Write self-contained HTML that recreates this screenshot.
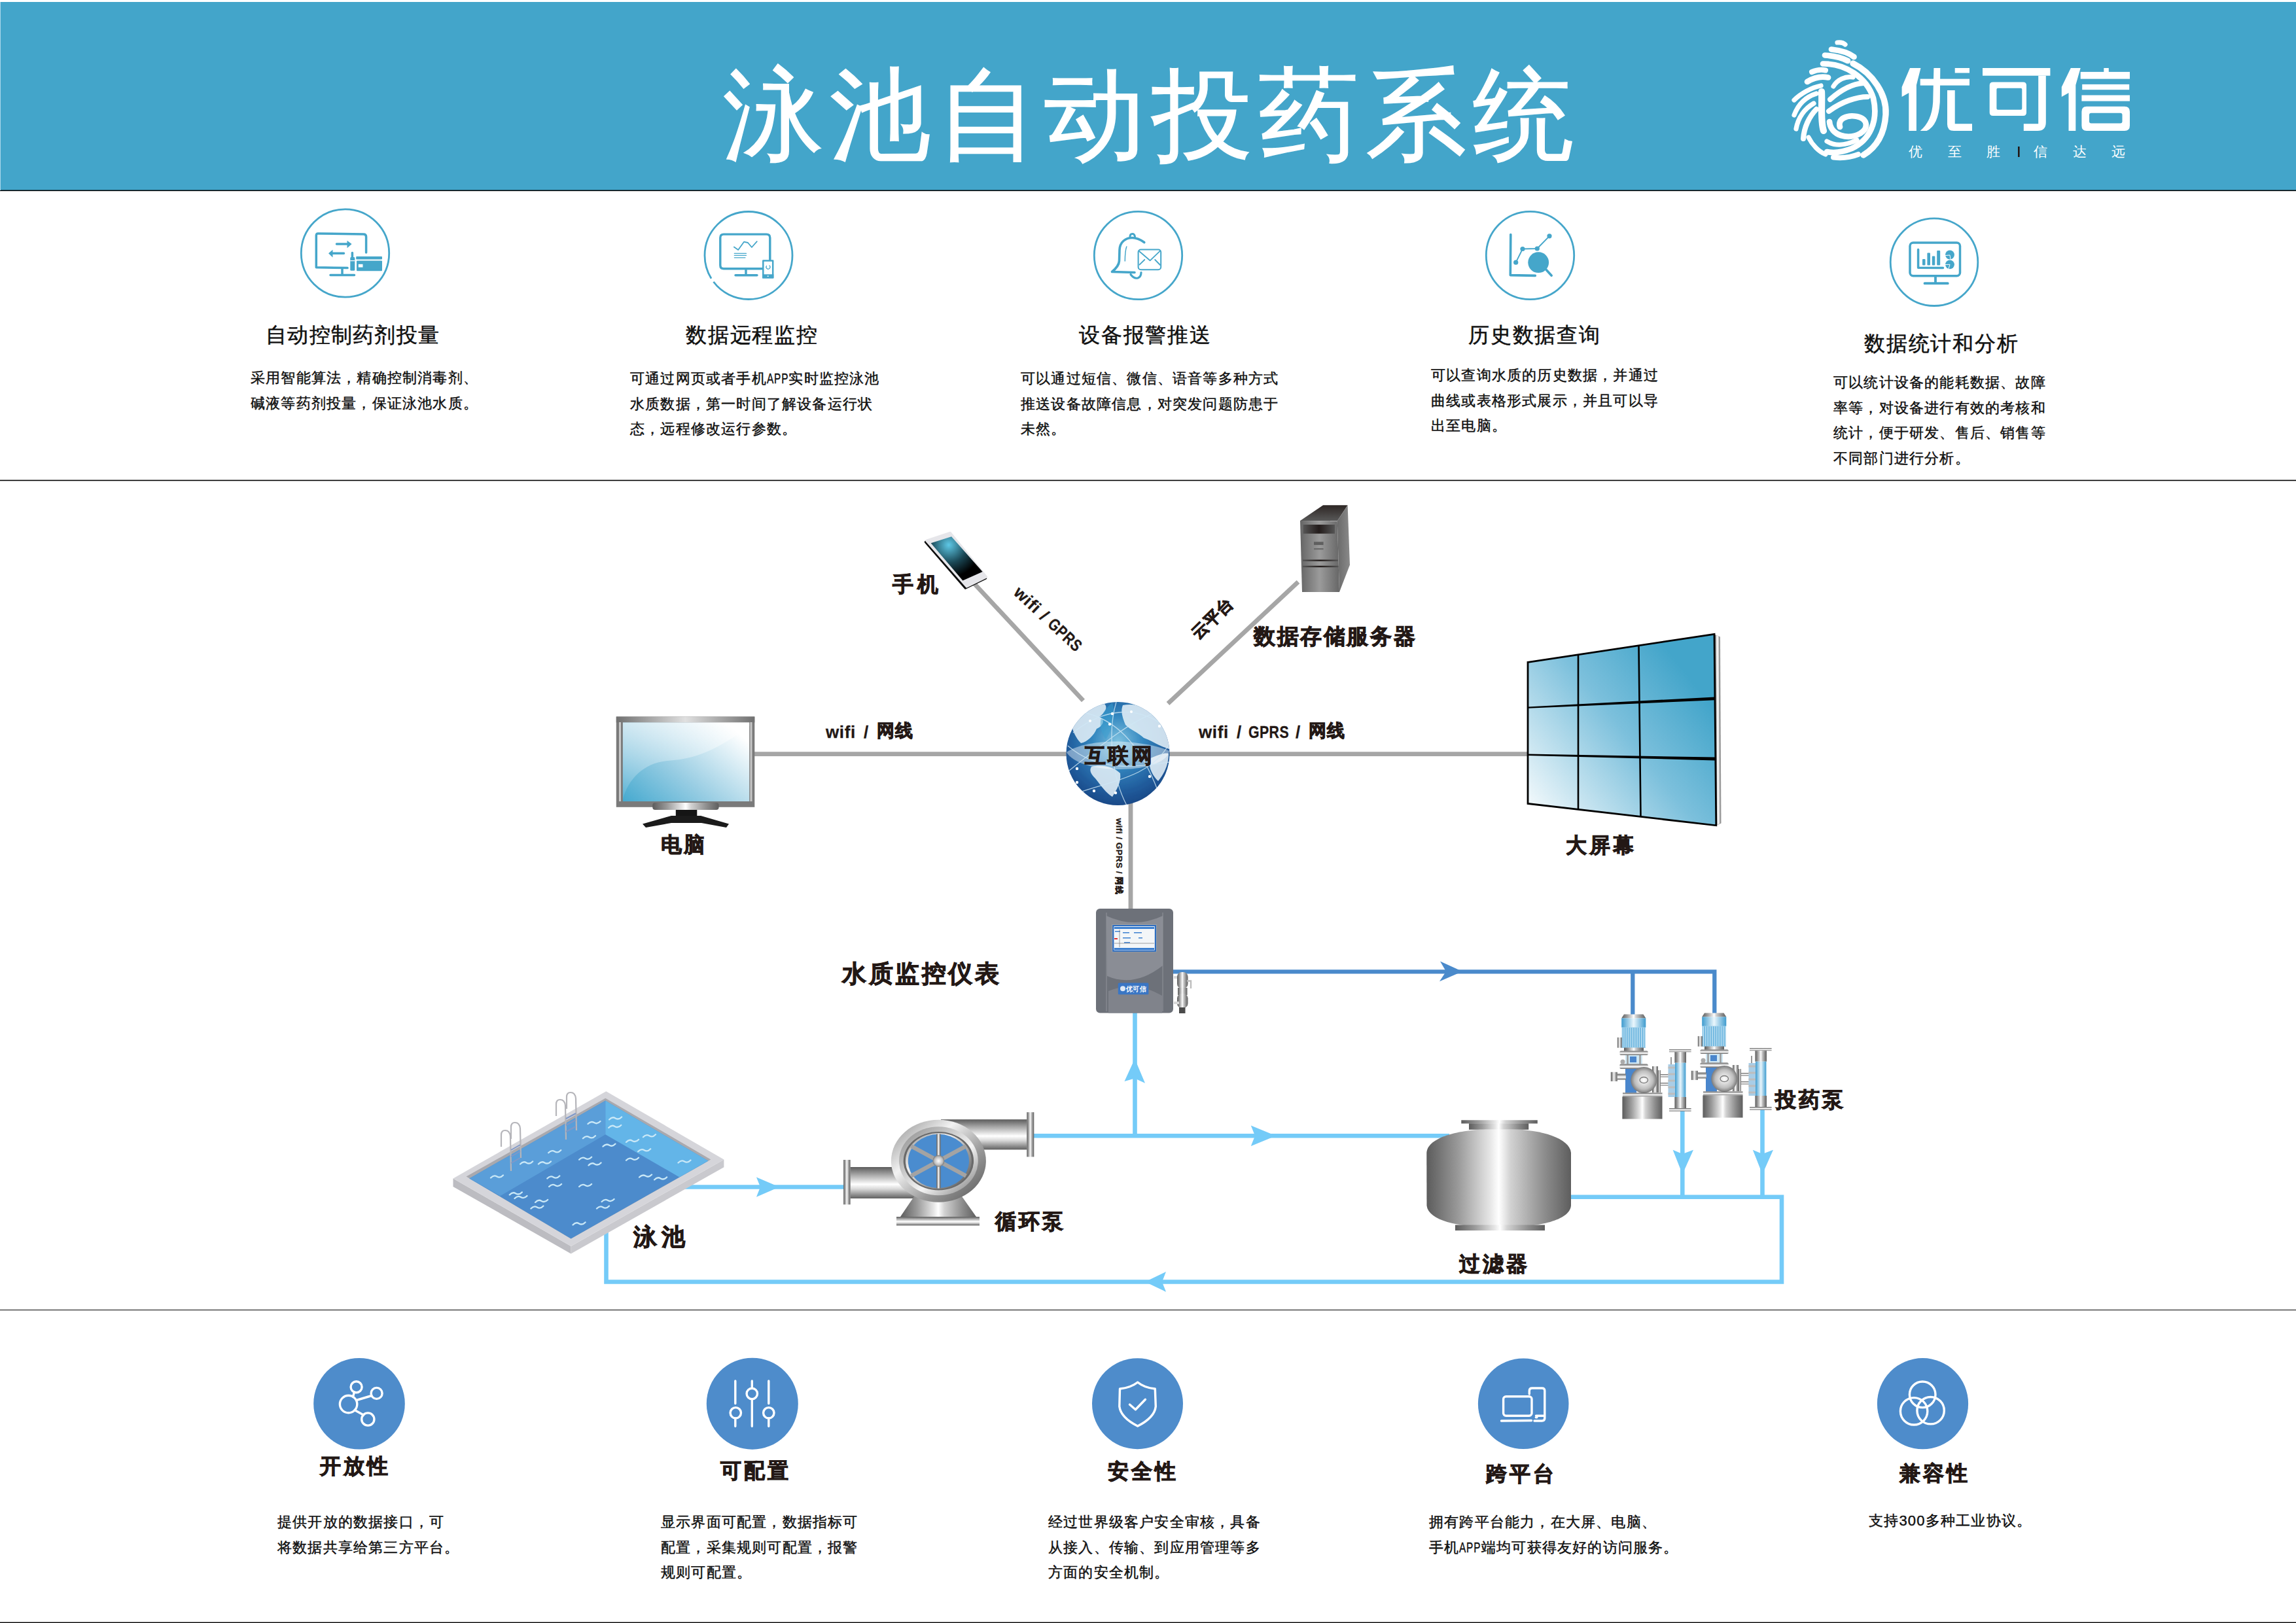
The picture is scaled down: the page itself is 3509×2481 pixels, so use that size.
<!DOCTYPE html>
<html><head><meta charset="utf-8">
<style>
html,body{margin:0;padding:0;background:#fff;}
body{width:3509px;height:2481px;position:relative;overflow:hidden;font-family:"Liberation Sans",sans-serif;}
.t{position:absolute;white-space:nowrap;line-height:1;}
.ti{font-size:32px;color:#111;letter-spacing:1.8px;-webkit-text-stroke:0.5px #111;}
.ds{font-size:22px;color:#111;line-height:38.5px;letter-spacing:1.2px;-webkit-text-stroke:0.45px #111;}
.lb{font-weight:700;color:#231815;font-size:32px;letter-spacing:4.2px;-webkit-text-stroke:1px #231815;}
.bt{font-weight:700;color:#231815;font-size:32px;letter-spacing:4.2px;-webkit-text-stroke:1px #231815;}
svg{position:absolute;left:0;top:0;}
.wl{font-size:26px;letter-spacing:0.6px;-webkit-text-stroke:0.3px #231815;}
.wc{font-size:26.5px;letter-spacing:1.3px;}
.app{display:inline-block;transform:scaleX(0.7);transform-origin:0 0;margin-right:-14px;}
</style></head>
<body>
<svg id="g" width="3509" height="2481" viewBox="0 0 3509 2481">
<!-- HEADER -->
<rect x="0" y="3" width="3509" height="288" fill="#43A5CA"/>
<rect x="0" y="290.5" width="3509" height="1.6" fill="#000"/>
<rect x="0" y="3" width="1" height="288" fill="#a9d7ea"/>
<!-- dividers -->
<rect x="0" y="733.6" width="3509" height="1.6" fill="#000"/>
<rect x="0" y="2001.8" width="3509" height="1.4" fill="#404040"/>
<rect x="0" y="2479.6" width="3509" height="1.4" fill="#000"/>
<!--LOGO-->
<g transform="translate(2890,90)" fill="#fff">
<path d="M29,14 L45.5,14 L38.9,40 L38.9,110 L27.3,110 L27.3,52 L16.6,58 L16.6,43 Z"/>
<rect x="97.7" y="14" width="22.3" height="7.5"/>
<rect x="44.7" y="30.6" width="75.3" height="10"/>
<path d="M65.4,14 L75.3,14 L74.8,66 Q72.5,102 54.6,110 L44.7,110 Q62.5,95 64.2,66 Z"/>
<path d="M86,48 L97.7,48 L97.7,99.3 L124,99.3 L124,110 L96,110 Q86,110 86,100 Z"/>
<rect x="140" y="14" width="103.4" height="11.7"/>
<path fill-rule="evenodd" d="M156,35.6 L202,35.6 Q207,35.6 207,40.6 L207,82 Q207,87 202,87 L156,87 Q150.7,87 150.7,82 L150.7,40.6 Q150.7,35.6 156,35.6 Z M163.5,44.7 L198.2,44.7 Q200.3,44.7 200.3,46.8 L200.3,75.7 Q200.3,77.8 198.2,77.8 L163.5,77.8 Q161.4,77.8 161.4,75.7 L161.4,46.8 Q161.4,44.7 163.5,44.7 Z"/>
<path d="M225.2,25.7 L236.8,25.7 L236.8,97 Q236.8,110 224,110 L202.8,110 L202.8,99.3 L225.2,99.3 Z"/>
<path d="M274.8,14 L289.7,14 L282.3,40 L282.3,110 L271.5,110 L271.5,52 L260.8,58 L260.8,43 Z"/>
<rect x="325.3" y="14" width="7.5" height="7"/>
<rect x="289.7" y="19.9" width="75.3" height="10.7"/>
<rect x="292.2" y="38.9" width="72" height="8.3"/>
<rect x="291.4" y="55.5" width="73.6" height="9.1"/>
<path fill-rule="evenodd" d="M299,72.8 L357,72.8 Q365,72.8 365,80.8 L365,102 Q365,110 357,110 L299,110 Q291.4,110 291.4,102 L291.4,80.8 Q291.4,72.8 299,72.8 Z M306,82.8 L350.5,82.8 Q353.5,82.8 353.5,85.8 L353.5,95.5 Q353.5,98.5 350.5,98.5 L306,98.5 Q303,98.5 303,95.5 L303,85.8 Q303,82.8 306,82.8 Z"/>
</g>
<rect x="3084" y="224" width="2.6" height="16" fill="#231815"/>
<g fill="none" stroke="#fff" stroke-width="8.7" stroke-linecap="round">
<path d="M2808,65 Q2816,64 2820,68" stroke-width="7.2"/>
<path d="M2799,75.5 Q2822,78 2833.5,87" stroke-width="8.7"/>
<path d="M2789,84.5 Q2810,86 2824,93" stroke-width="8.7"/>
<path d="M2832,97 C2862,112 2884,145 2882,175 C2880,205 2868,225 2848,237" stroke-width="9.4"/>
<path d="M2786,97.5 C2820,97 2853,118 2863,150 C2871,185 2858,214 2830,227 C2815,233 2802,234 2792,232" stroke-width="8.7"/>
<path d="M2802,240.5 Q2822,243 2840,236" stroke-width="8.0"/>
<path d="M2769,110 Q2780,105 2790,107.5" stroke-width="8.0"/>
<path d="M2762,125 Q2778,115 2794,118.5" stroke-width="8.7"/>
<path d="M2742,153 C2752,143 2768,134 2783,131" stroke-width="7.2"/>
<path d="M2742,176 C2748,160 2760,148 2776,143" stroke-width="7.2"/>
<path d="M2745,197 C2748,180 2758,166 2772,158" stroke-width="7.2"/>
<path d="M2756,212 C2757,195 2765,178 2776,167" stroke-width="8.0"/>
<path d="M2764,210 C2770,222 2780,232 2790,236" stroke-width="7.2"/>
<path d="M2784,140 C2785,160 2782,185 2787,200" stroke-width="10.2"/>
<path d="M2797,152 C2815,136 2833,128 2848,127" stroke-width="8.0"/>
<path d="M2795,170 C2815,155 2838,148 2854,148" stroke-width="8.0"/>
<path d="M2796,186 C2798,208 2825,214 2843,204 C2856,196 2855,182 2838,178 C2822,175 2808,182 2812,194" stroke-width="8.7"/>
<path d="M2802,132 C2808,122 2820,116 2832,118" stroke-width="7.2"/>
<path d="M2792,216 C2805,224 2822,222 2838,214" stroke-width="7.2"/>
</g>
<!--ROW1-->
<g fill="none" stroke="#45A6CA" stroke-width="2.8">
<circle cx="527.5" cy="387" r="67.2"/>
<circle cx="1144" cy="390.5" r="67" stroke-dasharray="167 6 248"/>
<circle cx="1739.5" cy="390.5" r="67.2"/>
<circle cx="2338.5" cy="390.5" r="67.2"/>
<circle cx="2956" cy="400.7" r="66.8"/>
</g>
<!-- icon1 -->
<g transform="translate(450,310)" fill="none" stroke="#45A6CA" stroke-width="3.5" stroke-linecap="round" stroke-linejoin="round">
<path d="M109.6,76 L109.6,52 Q109.6,48 105.5,48 L36,47 Q33.3,47 33.3,50 L33.3,98.8 L81,99.6"/>
<path d="M73,100 L73,109.5 M55,110.4 L91.5,110.4"/>
<path d="M64.5,63 L82,63 M58.5,77.2 L75.5,77.2"/>
<path d="M88.4,76.5 L88.4,84"/>
</g>
<g transform="translate(450,310)" fill="#45A6CA">
<path d="M80.5,57.8 L87.6,63 L80.5,69.3 Z M58.5,71.8 L52,77.2 L58.5,83.6 Z"/>
<rect x="85.3" y="83" width="7" height="20.7" rx="1.5"/>
<rect x="94.2" y="82" width="39.8" height="4.6" rx="1"/>
<rect x="95" y="88.6" width="39" height="15.6" rx="1"/>
<rect x="97.8" y="93.8" width="6.7" height="4.8" fill="#fff"/>
<rect x="85.3" y="88" width="7" height="1.2" fill="#fff"/>
</g>
<!-- icon2 -->
<g transform="translate(1070,310)" fill="none" stroke="#45A6CA" stroke-linecap="round" stroke-linejoin="round">
<path d="M95,100.8 L36,100.8 Q30.8,100.8 30.8,95.5 L30.8,53.5 Q30.8,48.1 36,48.1 L101.5,48.1 Q106.8,48.1 106.8,53.5 L106.8,87" stroke-width="3.4"/>
<path d="M70,101.5 L70,109 M54,110.7 L87,110.7" stroke-width="3.4"/>
<polyline points="51.8,67.6 58.2,72 67,59.7 73,61 78.9,68 86.8,59.2" stroke-width="1.8"/>
<path d="M52.3,77.4 L70.5,77.4 M52.3,80.4 L70.5,80.4 M52.3,83.8 L69,83.8" stroke-width="1.2"/>
<rect x="96.3" y="88.5" width="14.9" height="25.7" stroke-width="2.5" fill="#fff"/>
<path d="M106,96 A3,3 0 1 1 101.5,96.5" stroke-width="1.2"/>
</g>
<g transform="translate(1070,310)" fill="#45A6CA">
<rect x="95" y="109.3" width="17.4" height="6.1"/>
<rect x="102.7" y="111.5" width="2" height="1.4" fill="#fff"/>
</g>
<!-- icon3 -->
<g transform="translate(1660,310)" fill="none" stroke="#45A6CA" stroke-linecap="round" stroke-linejoin="round">
<path d="M88.8,60.5 C84,57 77,53.5 70.5,53.5 C60,53.5 51.5,60 51,72 L50.5,89 C50,96 45,101 39.5,105.5 L74,106.5" stroke-width="3.6"/>
<path d="M67,52 Q67,47.5 70.5,47.5 Q74,47.5 74.5,52" stroke-width="3"/>
<path d="M68,109.5 Q73,116.5 79,115 Q84,113 84,106.5" stroke-width="3.2"/>
<path d="M61.8,67 Q59.5,73 59.3,89" stroke-width="1.5"/>
<rect x="79.6" y="71.6" width="34.6" height="30.6" rx="4" stroke-width="2"/>
<path d="M81,74 L97.6,88.3 L113.2,73.3 M81.5,94.7 L89.3,87 M105.2,87 L113,95" stroke-width="1.8"/>
</g>
<!-- icon4 -->
<g transform="translate(2260,310)" stroke="#45A6CA" stroke-linecap="round" stroke-linejoin="round" fill="none">
<path d="M48.8,48.5 L48.3,110.6 L86.3,111.4" stroke-width="3.6"/>
<polyline points="56.7,91.2 67,70.5 89.3,70 108,50.8" stroke-width="1.9"/>
<path d="M103,102.3 L111.2,111.2" stroke-width="3.6"/>
</g>
<g transform="translate(2260,310)" fill="#45A6CA">
<circle cx="56.7" cy="91.2" r="3.6"/><circle cx="67" cy="70.5" r="3.6"/><circle cx="89.3" cy="70" r="3.6"/><circle cx="108" cy="50.8" r="3.6"/>
<circle cx="91.2" cy="91.2" r="15.9"/>
</g>
<!-- icon5 -->
<g transform="translate(2870,320)" stroke="#45A6CA" stroke-linecap="round" stroke-linejoin="round" fill="none">
<rect x="49" y="51" width="76.5" height="50.8" rx="5" stroke-width="3.5"/>
<path d="M88,102 L88,112 M71.5,113.2 L106.8,113.2" stroke-width="3.8"/>
<path d="M61.6,61.5 L61.6,89.2 L99.5,89.6" stroke-width="3.5"/>
</g>
<g transform="translate(2870,320)" fill="#45A6CA">
<rect x="68" y="76" width="4.5" height="9.5" rx="1"/><rect x="75.4" y="66.5" width="4.6" height="19" rx="1"/><rect x="82.8" y="71.5" width="4.5" height="14" rx="1"/><rect x="90.2" y="63" width="5" height="22.5" rx="1"/>
<circle cx="110" cy="69.5" r="6.9"/><circle cx="110" cy="84.3" r="6.9"/>
<path d="M103,70.5 L110,70 L111,76.5 M103,84.5 L110,84.3 L108,91" stroke="#fff" stroke-width="1" fill="none"/>
</g>
<!--DIAGRAM-->
<defs>
<linearGradient id="slH" x1="0" y1="0" x2="1" y2="0"><stop offset="0" stop-color="#5c5c5c"/><stop offset="0.22" stop-color="#9a9a9a"/><stop offset="0.44" stop-color="#e6e6e6"/><stop offset="0.5" stop-color="#ffffff"/><stop offset="0.58" stop-color="#d2d2d2"/><stop offset="0.82" stop-color="#8c8c8c"/><stop offset="1" stop-color="#5e5e5e"/></linearGradient>
<linearGradient id="slV" x1="0" y1="0" x2="0" y2="1"><stop offset="0" stop-color="#5c5c5c"/><stop offset="0.25" stop-color="#a8a8a8"/><stop offset="0.55" stop-color="#ffffff"/><stop offset="0.7" stop-color="#d8d8d8"/><stop offset="1" stop-color="#606060"/></linearGradient>
<linearGradient id="blH" x1="0" y1="0" x2="1" y2="0"><stop offset="0" stop-color="#3f9ccf"/><stop offset="0.5" stop-color="#eaf6fc"/><stop offset="1" stop-color="#3f9ccf"/></linearGradient>
<linearGradient id="scr" x1="0" y1="1" x2="1" y2="0.25"><stop offset="0" stop-color="#45a9cf"/><stop offset="0.45" stop-color="#98cde3"/><stop offset="1" stop-color="#ffffff"/></linearGradient>
<linearGradient id="glare" x1="0" y1="0" x2="0" y2="1"><stop offset="0" stop-color="#ffffff" stop-opacity="0.95"/><stop offset="1" stop-color="#ffffff" stop-opacity="0.15"/></linearGradient>
<linearGradient id="wall" x1="0" y1="1" x2="1" y2="0.2"><stop offset="0" stop-color="#ffffff"/><stop offset="0.55" stop-color="#7cc0dc"/><stop offset="0.9" stop-color="#43a5ca"/><stop offset="1" stop-color="#43a5ca"/></linearGradient>
<radialGradient id="globe" cx="0.5" cy="0.38" r="0.7"><stop offset="0" stop-color="#7fc2e0"/><stop offset="0.35" stop-color="#3588c0"/><stop offset="0.7" stop-color="#215c9c"/><stop offset="1" stop-color="#173f7c"/></radialGradient>
<radialGradient id="phs" cx="0.35" cy="0.05" r="0.9"><stop offset="0" stop-color="#62c9e6"/><stop offset="0.45" stop-color="#1b4c5c"/><stop offset="0.8" stop-color="#000"/></radialGradient>
<linearGradient id="srvF" x1="0" y1="0" x2="1" y2="0"><stop offset="0" stop-color="#656565"/><stop offset="0.5" stop-color="#9b9b9b"/><stop offset="1" stop-color="#666"/></linearGradient>
<linearGradient id="srvT" x1="0" y1="0" x2="0" y2="1"><stop offset="0" stop-color="#2d2624"/><stop offset="1" stop-color="#595959"/></linearGradient>
<linearGradient id="srvS" x1="0" y1="0" x2="1" y2="0"><stop offset="0" stop-color="#6a6a6a"/><stop offset="1" stop-color="#8a8a8a"/></linearGradient>
<linearGradient id="slot" x1="0" y1="0" x2="1" y2="0"><stop offset="0" stop-color="#555"/><stop offset="0.5" stop-color="#231c1b"/><stop offset="1" stop-color="#555"/></linearGradient>
<linearGradient id="frm" x1="0" y1="0" x2="1" y2="0"><stop offset="0" stop-color="#707070"/><stop offset="0.5" stop-color="#e0e0e0"/><stop offset="1" stop-color="#707070"/></linearGradient>
<radialGradient id="disk" cx="0.5" cy="0.5" r="0.5"><stop offset="0" stop-color="#ffffff"/><stop offset="0.7" stop-color="#bdbdbd"/><stop offset="1" stop-color="#7a7a7a"/></radialGradient>
<linearGradient id="volA" x1="0" y1="0" x2="1" y2="1"><stop offset="0" stop-color="#8a8a8a"/><stop offset="0.35" stop-color="#f2f2f2"/><stop offset="0.65" stop-color="#9a9a9a"/><stop offset="1" stop-color="#555"/></linearGradient>
<linearGradient id="volB" x1="1" y1="1" x2="0" y2="0"><stop offset="0" stop-color="#777"/><stop offset="0.4" stop-color="#f5f5f5"/><stop offset="1" stop-color="#888"/></linearGradient>
</defs>
<!-- network lines -->
<g stroke="#A6A6A6" stroke-width="6.8" fill="none">
<path d="M1150,1152.6 L2336,1152.6"/>
<path d="M1487,890 L1655.5,1071"/>
<path d="M1984,889.5 L1785,1075.5"/>
<path d="M1728,1225 L1728,1390"/>
</g>
<!-- monitor -->
<rect x="941.8" y="1095.5" width="211.5" height="138.3" fill="#7a7a7a"/>
<rect x="941.8" y="1095.5" width="211.5" height="8.9" fill="url(#frm)"/>
<rect x="946" y="1104" width="3" height="121" fill="#c8c8c8"/>
<rect x="1146.5" y="1104" width="3" height="121" fill="#c8c8c8"/>
<rect x="951.9" y="1104.4" width="193.3" height="120.6" fill="url(#scr)"/>
<path d="M951.9,1104.4 L1145.2,1104.4 L1145.2,1110 C1120,1128 1080,1158 1030,1162 L1020,1163 C985,1166 960,1190 951.9,1222 Z" fill="url(#glare)" opacity="0.55"/>
<rect x="997.3" y="1227" width="101.3" height="11" rx="4" fill="url(#slH)"/>
<rect x="1032.8" y="1238" width="32.5" height="12" fill="#151515"/>
<path d="M982,1259.5 L1026,1247 L1071,1247 L1114,1259.5 L1110,1265 L1072,1258 L1026,1258 L987,1265 Z" fill="#1b1b1b"/>
<!-- phone -->
<defs><radialGradient id="phs2" gradientUnits="userSpaceOnUse" cx="1450" cy="833" r="55"><stop offset="0" stop-color="#5ec8e6"/><stop offset="0.5" stop-color="#1a4856"/><stop offset="0.9" stop-color="#000"/></radialGradient></defs>
<polygon points="1414.5,828.5 1451.5,816.5 1506.5,884 1475.5,899" fill="#0d0d0d" stroke="#0d0d0d" stroke-width="3.5" stroke-linejoin="round"/>
<polygon points="1416,826.5 1452.3,814.5 1507.5,882 1477.5,896.8" fill="#e6e6ea" stroke="#e6e6ea" stroke-width="3.5" stroke-linejoin="round"/>
<polygon points="1422.7,830.2 1454.1,820.3 1501.6,873.9 1471.4,887.5" fill="url(#phs2)"/>
<!-- server -->
<polygon points="1987.1,796 2022.1,772.3 2059.6,772.3 2043.8,796.5" fill="url(#srvT)"/>
<polygon points="2043.8,796.5 2059.6,772.3 2063,863.5 2047,905" fill="url(#srvS)"/>
<polygon points="1987,796 2043.8,796.5 2047,905 1990,905" fill="url(#srvF)"/>
<rect x="1991.6" y="802" width="48.4" height="13.7" fill="url(#slot)"/>
<rect x="2008" y="828.3" width="14.6" height="4.8" fill="#5f5f5f"/>
<rect x="2008" y="838" width="14.6" height="2.2" fill="#6a6a6a"/>
<rect x="1991" y="855.5" width="54" height="2.4" fill="url(#slot)"/>
<rect x="1991" y="864.8" width="54.5" height="2.4" fill="url(#slot)"/>
<!-- big screen -->
<polygon points="2621,970 2629,973.5 2630.5,1258.5 2623,1262" fill="#9a9a9a"/>
<polygon points="2623,971 2626.5,972.5 2628,1259 2624.5,1261" fill="#f0f0f0"/>
<polygon points="2335,1012.3 2620,969.3 2622.8,1261.8 2335,1228.5" fill="url(#wall)" stroke="#000" stroke-width="2.8" stroke-linejoin="miter"/>
<path d="M2412,1001 L2412,1237.5 M2504.5,987.5 L2507.5,1248.6" stroke="#000" stroke-width="2.6"/>
<polygon points="2335,1080.4 2621,1065.5 2621,1070.3 2335,1082.8" fill="#000"/>
<polygon points="2335,1152.5 2621,1157.6 2621,1162.4 2335,1154.9" fill="#000"/>
<!-- globe -->
<circle cx="1708.5" cy="1152" r="79" fill="url(#globe)"/>
<clipPath id="gclip"><circle cx="1708.5" cy="1152" r="79"/></clipPath>
<g clip-path="url(#gclip)">
<g fill="#e3f0f8" opacity="0.88">
<path d="M1642,1098 C1650,1086 1668,1078 1688,1076 C1694,1082 1688,1090 1680,1096 C1690,1100 1686,1110 1676,1114 C1672,1124 1662,1134 1652,1136 C1644,1128 1640,1118 1638,1110 Z"/>
<path d="M1716,1078 C1735,1074 1760,1082 1774,1098 C1784,1112 1788,1128 1787,1145 C1770,1140 1760,1132 1748,1128 C1740,1120 1728,1116 1720,1108 C1716,1098 1712,1088 1716,1078 Z"/>
<path d="M1668,1172 C1684,1168 1702,1172 1712,1182 C1714,1196 1706,1208 1700,1218 C1690,1212 1682,1200 1674,1190 C1668,1184 1664,1178 1668,1172 Z"/>
<path d="M1756,1160 C1766,1156 1778,1150 1786,1152 C1786,1168 1780,1182 1770,1194 C1762,1186 1756,1176 1756,1160 Z"/>
</g>
<path d="M1630,1150 C1650,1136 1690,1132 1720,1134 C1750,1136 1775,1142 1787,1148 C1785,1162 1760,1176 1712,1176 C1670,1176 1640,1166 1630,1150 Z" fill="#ffffff" opacity="0.42"/>
<path d="M1700,1074 C1680,1090 1676,1110 1690,1130 C1700,1115 1706,1095 1700,1074 Z" fill="#3aa0cf" opacity="0.5"/>
<g fill="none" stroke="#cfe7f5" stroke-width="1.3" opacity="0.8">
<path d="M1634,1178 C1670,1150 1730,1098 1772,1088"/>
<path d="M1648,1212 C1690,1196 1760,1188 1786,1138"/>
<path d="M1706,1073 C1692,1120 1700,1190 1722,1231"/>
<path d="M1632,1140 C1680,1182 1740,1172 1787,1165"/>
<path d="M1660,1090 C1700,1100 1740,1130 1770,1210"/>
<path d="M1640,1120 C1690,1080 1740,1080 1780,1110"/>
</g>
<g fill="#ffffff"><circle cx="1700" cy="1091" r="2.2"/><circle cx="1696" cy="1107" r="2.2"/><circle cx="1646" cy="1175" r="2.2"/><circle cx="1646" cy="1196" r="2.2"/><circle cx="1672" cy="1209" r="2.2"/><circle cx="1705" cy="1212" r="2.2"/><circle cx="1757" cy="1187" r="2.2"/><circle cx="1772" cy="1110" r="2.2"/><circle cx="1666" cy="1102" r="2"/><circle cx="1729" cy="1088" r="2"/></g>
</g>
<!--INSTR-->
<!-- pipes light -->
<g stroke="#74CBF8" stroke-width="6.6" fill="none" stroke-linejoin="miter">
<path d="M1040,1814.5 L1292,1814.5"/>
<path d="M1578,1736.2 L2215,1736.2"/>
<path d="M1734.5,1736.2 L1734.5,1545"/>
<path d="M2398,1829.8 L2723,1829.8 L2723,1959.5 L926.5,1959.5 L926.5,1880"/>
<path d="M2571.3,1695 L2571.3,1829.8 M2693.5,1695 L2693.5,1829.8"/>
</g>
<g fill="#74CBF8">
<path d="M1191,1814.6 L1156,1799.5 L1162,1814.6 L1156,1829.7 Z"/>
<path d="M1950,1736.3 L1911.8,1720.6 L1918,1736.3 L1911.8,1752 Z"/>
<path d="M1734.3,1618.5 L1718.5,1653 L1734.3,1648.5 L1750,1655.7 Z"/>
<path d="M1750,1959.4 L1782,1944 L1776,1959.4 L1782,1974.8 Z"/>
<path d="M2571.3,1795 L2556.6,1757.7 L2571.3,1764 L2588,1757.7 Z"/>
<path d="M2693.5,1795 L2678.8,1757.7 L2693.5,1764 L2710,1757.7 Z"/>
</g>
<!-- pipes dark -->
<g stroke="#4A8ACB" stroke-width="6.3" fill="none">
<path d="M1790,1485.3 L2620.3,1485.3 L2620.3,1552 M2495.3,1485.3 L2495.3,1553"/>
</g>
<path d="M2235,1485 L2201,1469.6 L2210,1485 L2200,1500.3 Z" fill="#4A8ACB"/>
<!-- instrument -->
<rect x="1675" y="1389" width="118" height="159.6" rx="6" fill="#6d7179"/>
<path d="M1691,1400 Q1734,1420 1777,1400 L1777,1476 Q1734,1510 1692,1492 Z" fill="#8a8d95"/>
<path d="M1694,1515 Q1734,1498 1776,1522 L1776,1548.6 L1694,1548.6 Z" fill="#80838b"/>
<path d="M1691,1395 L1691,1546 M1777,1395 L1777,1546" stroke="#90939a" stroke-width="1"/>
<rect x="1699" y="1413" width="69" height="42.5" rx="1" fill="#9aa0a8"/>
<rect x="1700.2" y="1414" width="66.8" height="40.8" fill="#2e6ec0"/>
<rect x="1702.4" y="1416" width="62.4" height="36.6" fill="#f3f6f8"/>
<g fill="#3b7fd0"><rect x="1703" y="1417" width="61" height="3"/><rect x="1703" y="1449" width="61" height="3"/><rect x="1704" y="1423" width="8" height="1.5"/><rect x="1716" y="1425" width="10" height="1.5"/><rect x="1733" y="1425" width="12" height="1.5"/><rect x="1716" y="1433" width="12" height="1.5"/><rect x="1740" y="1433" width="6" height="1.5"/><rect x="1718" y="1440" width="9" height="1.5"/></g>
<rect x="1703" y="1434" width="5" height="2" fill="#e03030"/>
<path d="M1711,1421 L1711,1448 M1703,1442 L1764,1442" stroke="#666" stroke-width="0.6"/>
<rect x="1708.8" y="1502.5" width="46.6" height="17.8" rx="1.5" fill="#3a76c4"/>
<circle cx="1716" cy="1511.3" r="4" fill="#dfe9f5"/>
<text x="1721" y="1514.5" font-size="9.5" font-weight="700" fill="#fff" font-family="Liberation Sans, sans-serif" letter-spacing="0.3">优可信</text><g fill="#dfe9f5"><rect x="1722" y="1516" width="1.2" height="1.2"/><rect x="1727" y="1516" width="1.2" height="1.2"/><rect x="1732" y="1516" width="1.2" height="1.2"/><rect x="1737" y="1516" width="1.2" height="1.2"/><rect x="1742" y="1516" width="1.2" height="1.2"/><rect x="1747" y="1516" width="1.2" height="1.2"/></g>
<!-- sensor valve -->
<g>
<rect x="1794" y="1492" width="12" height="4" fill="#d8d8d8"/>
<rect x="1799" y="1486" width="16.5" height="25" rx="7" fill="url(#slH)"/>
<rect x="1800" y="1510" width="14.5" height="11" fill="url(#slH)"/>
<rect x="1799" y="1519" width="16.5" height="22" rx="7" fill="url(#slH)"/>
<rect x="1794" y="1531" width="8" height="4" fill="#d8d8d8"/>
<rect x="1802" y="1540" width="9.5" height="9" fill="#4a4a4a"/>
<path d="M1814,1499.5 L1820,1499.5 L1820,1511" stroke="#bdbdbd" stroke-width="2.4" fill="none"/>
</g>
<!--POOL-->
<polygon points="692.5,1801.4 872.6,1904.9 872.6,1916.4 692.5,1813.9" fill="#bcbcc1"/>
<polygon points="872.6,1904.9 1106.4,1772.6 1106.4,1784.2 872.6,1916.4" fill="#c9c9ce"/>
<polygon points="692.5,1801.4 926.3,1668.2 1106.4,1772.6 872.6,1904.9" fill="#d5d5da"/>
<polygon points="712.6,1798.5 925.3,1678.7 1086.3,1772.6 872.6,1893.4" fill="#a9a9ae"/>
<polygon points="717.4,1801.4 925.3,1682.6 1082.4,1774.6 872.6,1893.4" fill="#4c8bcc"/>
<polygon points="717.4,1801.4 925.3,1682.6 925.3,1734.3 764.3,1828.2" fill="#5a9ed9"/>
<polygon points="925.3,1682.6 1082.4,1774.6 1038.4,1799.5 925.3,1734.3" fill="#63b5e8"/>
<g fill="none" stroke="#c9e8f7" stroke-width="2.3" stroke-linecap="round">
<path d="M750.0,1800.5 q4.5,-5 9.5,-2 t9.5,-2 M838.2,1762.2 q4.5,-5 9.5,-2 t9.5,-2 M795.1,1779.4 q4.5,-5 9.5,-2 t9.5,-2 M822.9,1779.4 q4.5,-5 9.5,-2 t9.5,-2 M836.3,1801.5 q4.5,-5 9.5,-2 t9.5,-2 M839.1,1814.0 q4.5,-5 9.5,-2 t9.5,-2 M778.8,1826.4 q4.5,-5 9.5,-2 t9.5,-2 M786.5,1832.0 q4.5,-5 9.5,-2 t9.5,-2 M818.1,1837.9 q4.5,-5 9.5,-2 t9.5,-2 M811.4,1847.5 q4.5,-5 9.5,-2 t9.5,-2 M875.5,1872.4 q4.5,-5 9.5,-2 t9.5,-2 M885.1,1772.7 q4.5,-5 9.5,-2 t9.5,-2 M899.5,1781.4 q4.5,-5 9.5,-2 t9.5,-2 M885.1,1814.0 q4.5,-5 9.5,-2 t9.5,-2 M890.9,1740.2 q4.5,-5 9.5,-2 t9.5,-2 M898.5,1718.1 q4.5,-5 9.5,-2 t9.5,-2 M921.5,1752.6 q4.5,-5 9.5,-2 t9.5,-2 M931.1,1711.4 q4.5,-5 9.5,-2 t9.5,-2 M930.2,1723.9 q4.5,-5 9.5,-2 t9.5,-2 M957.0,1745.9 q4.5,-5 9.5,-2 t9.5,-2 M982.9,1738.2 q4.5,-5 9.5,-2 t9.5,-2 M975.2,1760.3 q4.5,-5 9.5,-2 t9.5,-2 M957.0,1773.7 q4.5,-5 9.5,-2 t9.5,-2 M977.1,1799.6 q4.5,-5 9.5,-2 t9.5,-2 M1000.1,1803.4 q4.5,-5 9.5,-2 t9.5,-2 M1036.5,1777.5 q4.5,-5 9.5,-2 t9.5,-2 M919.6,1837.0 q4.5,-5 9.5,-2 t9.5,-2 M912.0,1847.5 q4.5,-5 9.5,-2 t9.5,-2"/>
</g>
<g fill="none" stroke="#b5b5ba" stroke-width="2.2">
<path d="M766,1753 L766,1735 Q766,1728 772,1728 Q779,1728 780,1737 L781,1790"/>
<path d="M781,1741 L781,1723 Q781,1716 787,1716 Q794,1716 795,1725 L796,1770"/>
<path d="M850,1706 L850,1688 Q850,1681 856,1681 Q863,1681 864,1690 L865,1742"/>
<path d="M866,1695 L866,1677 Q866,1670 872,1670 Q879,1670 880,1679 L881,1728"/>
</g>
<g stroke="#7f98c8" stroke-width="2" fill="none"><path d="M781,1758 L795,1750 M781,1768 L795,1760 M781,1778 L795,1770 M865,1710 L880,1702 M865,1720 L880,1712 M865,1730 L880,1722"/></g>
<!--PUMP-->
<rect x="1299.6" y="1784" width="102" height="48" fill="url(#slV)"/>
<rect x="1289.1" y="1773" width="10.5" height="68.3" fill="url(#slH)"/>
<rect x="1438" y="1711.2" width="131.3" height="46.2" fill="url(#slV)"/>
<rect x="1569.3" y="1700.2" width="11" height="68.2" fill="url(#slH)"/>
<polygon points="1399,1826 1468,1826 1492,1860 1376,1860" fill="url(#slH)"/>
<rect x="1370" y="1860" width="127" height="13.4" fill="url(#slV)"/>
<ellipse cx="1434.4" cy="1774.7" rx="72.5" ry="63" fill="url(#volA)"/>
<ellipse cx="1434.4" cy="1774.7" rx="60.4" ry="52.5" fill="url(#volB)"/>
<ellipse cx="1434.4" cy="1774.7" rx="53.7" ry="44.7" fill="#6a6a6a"/>
<ellipse cx="1434.4" cy="1774.7" rx="50.5" ry="42.8" fill="url(#volA)"/>
<ellipse cx="1434.4" cy="1775" rx="46.6" ry="41.2" fill="#4a8ccf"/>
<g stroke="#a3a3a3" stroke-width="6.3">
<path d="M1392.5,1752 L1476.3,1797.5 M1392.5,1797.5 L1476.3,1752"/>
</g>
<rect x="1431.2" y="1733.5" width="6.4" height="83" fill="url(#slH)"/>
<circle cx="1434.4" cy="1774.7" r="9" fill="url(#disk)"/>
<!-- filter -->
<rect x="2233.3" y="1712.3" width="116.5" height="5.2" fill="url(#slH)"/>
<rect x="2245" y="1717.3" width="91.2" height="9.5" fill="url(#slH)"/>
<path d="M2180.3,1762 C2182,1738 2232,1726.5 2275,1726.5 L2310,1726.5 C2355,1726.5 2399,1740 2401,1762 L2401,1843 C2399,1866 2350,1875.5 2305,1875.5 L2275,1875.5 C2230,1875.5 2183,1866 2180.5,1843 Z" fill="url(#slH)"/>
<rect x="2224" y="1872.5" width="137" height="8.5" fill="url(#slH)"/>
<!-- dosing pump -->
<g id="dp">
<polygon points="2482,1550.5 2511.5,1550.5 2515.3,1556.5 2478.2,1556.5" fill="url(#slH)"/>
<rect x="2478.2" y="1556.5" width="37.1" height="14.1" fill="url(#blH)"/>
<rect x="2478.8" y="1570.6" width="36" height="31.1" fill="#67b3de"/>
<path d="M2480.5,1571 V1601 M2483.3,1571 V1601 M2486.1,1571 V1601 M2488.9,1571 V1601 M2491.7,1571 V1601 M2494.5,1571 V1601 M2497.3,1571 V1601 M2500.1,1571 V1601 M2502.9,1571 V1601 M2505.7,1571 V1601 M2508.5,1571 V1601 M2511.3,1571 V1601 M2514,1571 V1601" stroke="#e8f5fb" stroke-width="0.9"/>
<rect x="2471.8" y="1585.9" width="7" height="15.8" fill="url(#slH)"/>
<rect x="2482" y="1601.5" width="30" height="5" fill="url(#slH)"/>
<rect x="2475.3" y="1606.4" width="43.5" height="6.5" rx="2" fill="url(#slV)"/>
<rect x="2484" y="1613" width="26" height="13.4" fill="#cfe8f5"/>
<rect x="2491" y="1615" width="10" height="9" fill="#4a86cc"/>
<path d="M2487.5,1613 V1626.4 M2506.5,1613 V1626.4" stroke="#9a9a9a" stroke-width="2.5"/>
<rect x="2475.3" y="1626.4" width="43.5" height="7.6" rx="2" fill="url(#slV)"/>
<circle cx="2480" cy="1623" r="3.5" fill="#aaa"/>
<rect x="2484" y="1634" width="17" height="36.5" fill="#4a86cc"/>
<rect x="2461.8" y="1638.8" width="10" height="14.1" fill="url(#slH)"/>
<rect x="2471.8" y="1641.5" width="13" height="9" fill="url(#slV)"/>
<rect x="2525" y="1630" width="9" height="40" fill="url(#slH)"/>
<rect x="2534" y="1636" width="4" height="34" fill="url(#slH)"/>
<rect x="2538" y="1642" width="12" height="4.5" fill="url(#slV)"/>
<rect x="2538" y="1655" width="12" height="4.5" fill="url(#slV)"/>
<circle cx="2512.3" cy="1651.1" r="20" fill="url(#disk)"/>
<ellipse cx="2512.3" cy="1651.1" rx="6.2" ry="4.6" fill="none" stroke="#777" stroke-width="1.3"/>
<rect x="2480" y="1670.5" width="60.5" height="5.9" fill="url(#slV)"/>
<rect x="2479.4" y="1676.4" width="61.1" height="34.1" fill="url(#slH)"/>
<rect x="2551" y="1604" width="33.6" height="4.2" fill="url(#slV)"/>
<rect x="2559.4" y="1608.2" width="17.6" height="16.5" fill="url(#slH)"/>
<rect x="2560" y="1624.7" width="16.4" height="52.3" fill="url(#blH)"/>
<rect x="2559.4" y="1677" width="17.6" height="17" fill="url(#slH)"/>
<rect x="2551" y="1694" width="33.6" height="4.8" fill="url(#slV)"/>
<rect x="2549.5" y="1627" width="10.5" height="50" fill="#a9cde6"/>
<path d="M2549.5,1632 H2560 M2549.5,1642 H2560 M2549.5,1652 H2560 M2549.5,1662 H2560 M2549.5,1672 H2560" stroke="#bdbdbd" stroke-width="3"/>
<rect x="2553" y="1616" width="2" height="11" fill="#999"/>
</g>
<use href="#dp" transform="translate(123,-2)"/>
<!--ROW2-->
<g fill="#4E8CCB">
<circle cx="549" cy="2145.7" r="69.8"/>
<circle cx="1149.8" cy="2145.7" r="70"/>
<circle cx="1738.5" cy="2145.7" r="69.5"/>
<circle cx="2328.2" cy="2145.7" r="69.3"/>
<circle cx="2938.5" cy="2145.7" r="69.6"/>
</g>
<g fill="none" stroke="#fff" stroke-width="3.4" stroke-linecap="round" stroke-linejoin="round">
<circle cx="532.6" cy="2146.5" r="13.2"/><circle cx="544.6" cy="2120.2" r="8.5"/><circle cx="575.6" cy="2129.9" r="8.5"/><circle cx="562.3" cy="2169.5" r="9.6"/>
<path d="M539.5,2135 L541.5,2128 M544.5,2140.5 L568,2133.5 M542,2155.5 L555.5,2163"/>
<path d="M1123.8,2111 L1123.8,2145.5 M1123.8,2168.3 L1123.8,2180.3 M1149.3,2111 L1149.3,2122 M1149.3,2139 L1149.3,2180.3 M1174.8,2111 L1174.8,2145.5 M1174.8,2168.3 L1174.8,2180.3"/>
<circle cx="1124.3" cy="2159.8" r="8.2"/><circle cx="1149.3" cy="2130.4" r="8.2"/><circle cx="1174.8" cy="2159.8" r="8.2"/>
<path d="M1738.7,2113 Q1728,2121.5 1711.5,2123 L1710.8,2150 Q1713,2167 1738.7,2180 Q1764.5,2167 1766.3,2150 L1765.3,2123 Q1749,2121.5 1738.7,2113 Z"/>
<path d="M1726.5,2147 L1735.4,2154.8 L1750.4,2139.3"/>
<rect x="2297.6" y="2134.8" width="43.4" height="29.5" rx="4"/>
<path d="M2294.5,2172 L2340.5,2171.5"/>
<path d="M2337.3,2131 L2337.3,2126 Q2337.3,2122 2341.5,2122 L2356.5,2122 Q2360.8,2122 2360.8,2126 L2360.8,2168 Q2360.8,2172 2356.5,2172 L2345,2172 M2347.5,2164.3 L2360,2164.3"/>
<circle cx="2938.2" cy="2131.8" r="19.8"/><circle cx="2925.1" cy="2157.3" r="20.7"/><circle cx="2950.6" cy="2156.2" r="20.7"/>
</g>
<ellipse cx="2348.1" cy="2166.8" rx="2.6" ry="1.6" fill="#fff"/>
</svg>
<!-- HEADER TEXT -->
<div class="t" style="left:1104.5px;top:99px;font-size:154px;color:#fff;letter-spacing:9.75px;-webkit-text-stroke:1.6px #fff;">泳池自动投药系统</div>
<div class="t" style="left:2917px;top:221px;font-size:21px;color:#fff;letter-spacing:38.5px;">优至胜</div>
<div class="t" style="left:3108px;top:221px;font-size:21px;color:#fff;letter-spacing:38.5px;">信达远</div>
<!-- ROW1 TEXT -->
<div class="t ti" style="left:406px;top:496px;letter-spacing:1.3px;">自动控制药剂投量</div>
<div class="t ti" style="left:1048px;top:496px;">数据远程监控</div>
<div class="t ti" style="left:1649px;top:496px;">设备报警推送</div>
<div class="t ti" style="left:2244px;top:496px;">历史数据查询</div>
<div class="t ti" style="left:2849px;top:509px;">数据统计和分析</div>
<div class="t ds" style="left:383px;top:559px;">采用智能算法，精确控制消毒剂、<br>碱液等药剂投量，保证泳池水质。</div>
<div class="t ds" style="left:963px;top:560px;">可通过网页或者手机<span class="app">APP</span>实时监控泳池<br>水质数据，第一时间了解设备运行状<br>态，远程修改运行参数。</div>
<div class="t ds" style="left:1560px;top:560px;">可以通过短信、微信、语音等多种方式<br>推送设备故障信息，对突发问题防患于<br>未然。</div>
<div class="t ds" style="left:2187px;top:555px;">可以查询水质的历史数据，并通过<br>曲线或表格形式展示，并且可以导<br>出至电脑。</div>
<div class="t ds" style="left:2802px;top:566px;">可以统计设备的能耗数据、故障<br>率等，对设备进行有效的考核和<br>统计，便于研发、售后、销售等<br>不同部门进行分析。</div>
<!-- DIAGRAM LABELS -->
<div class="t lb" style="left:1364px;top:877px;letter-spacing:6px;">手机</div>
<div class="t lb" style="left:1010px;top:1275px;letter-spacing:3.4px;">电脑</div>
<div class="t lb" style="left:1916px;top:956px;font-size:33px;letter-spacing:2.6px;">数据存储服务器</div>
<div class="t lb" style="left:2393px;top:1276px;">大屏幕</div>
<div class="t lb" style="left:1658px;top:1139px;letter-spacing:3.3px;">互联网</div>
<div class="t lb" style="left:1287px;top:1470px;font-size:37px;letter-spacing:3.6px;">水质监控仪表</div>
<div class="t lb" style="left:2713px;top:1665px;">投药泵</div>
<div class="t lb" style="left:1521px;top:1851px;">循环泵</div>
<div class="t lb" style="left:968px;top:1873px;font-size:36px;letter-spacing:6.5px;">泳池</div>
<div class="t lb" style="left:2230px;top:1916px;">过滤器</div>
<div class="t lb wl" style="left:1262px;top:1106px;">wifi</div>
<div class="t lb wl" style="left:1320px;top:1106px;">/</div>
<div class="t lb wc" style="left:1339.5px;top:1104px;">网线</div>
<div class="t lb wl" style="left:1832px;top:1106px;">wifi</div>
<div class="t lb wl" style="left:1890px;top:1106px;">/</div>
<div class="t lb wl" style="left:1908px;top:1106px;transform:scaleX(0.82);transform-origin:0 0;letter-spacing:0.5px;">GPRS</div>
<div class="t lb wl" style="left:1980px;top:1106px;">/</div>
<div class="t lb wc" style="left:1999.5px;top:1104px;">网线</div>
<div class="t lb" id="rot1" style="left:1602px;top:947px;font-size:25.5px;letter-spacing:1px;-webkit-text-stroke:0.3px #231815;transform:translate(-50%,-50%) rotate(43deg);">wifi / <span style="display:inline-block;transform:scaleX(0.8);transform-origin:0 0;margin-right:-14px;">GPRS</span></div>
<div class="t lb" id="rot2" style="left:1853px;top:944.6px;font-size:25px;letter-spacing:1px;transform:translate(-50%,-50%) rotate(-44deg);">云平台</div>
<div class="t lb" id="rot3" style="left:1710px;top:1308.5px;font-size:13.4px;letter-spacing:0.5px;-webkit-text-stroke:0.3px #231815;transform:translate(-50%,-50%) rotate(90deg);">wifi / GPRS / 网线</div>
<!-- ROW2 TEXT -->
<div class="t bt" style="left:489px;top:2225px;">开放性</div>
<div class="t bt" style="left:1101px;top:2232px;">可配置</div>
<div class="t bt" style="left:1693px;top:2233px;">安全性</div>
<div class="t bt" style="left:2271px;top:2237px;">跨平台</div>
<div class="t bt" style="left:2903px;top:2236px;">兼容性</div>
<div class="t ds" style="left:424px;top:2308px;">提供开放的数据接口，可<br>将数据共享给第三方平台。</div>
<div class="t ds" style="left:1010px;top:2308px;">显示界面可配置，数据指标可<br>配置，采集规则可配置，报警<br>规则可配置。</div>
<div class="t ds" style="left:1602px;top:2308px;">经过世界级客户安全审核，具备<br>从接入、传输、到应用管理等多<br>方面的安全机制。</div>
<div class="t ds" style="left:2184px;top:2308px;">拥有跨平台能力，在大屏、电脑、<br>手机<span class="app">APP</span>端均可获得友好的访问服务。</div>
<div class="t ds" style="left:2856px;top:2306px;">支持300多种工业协议。</div>
</body></html>
